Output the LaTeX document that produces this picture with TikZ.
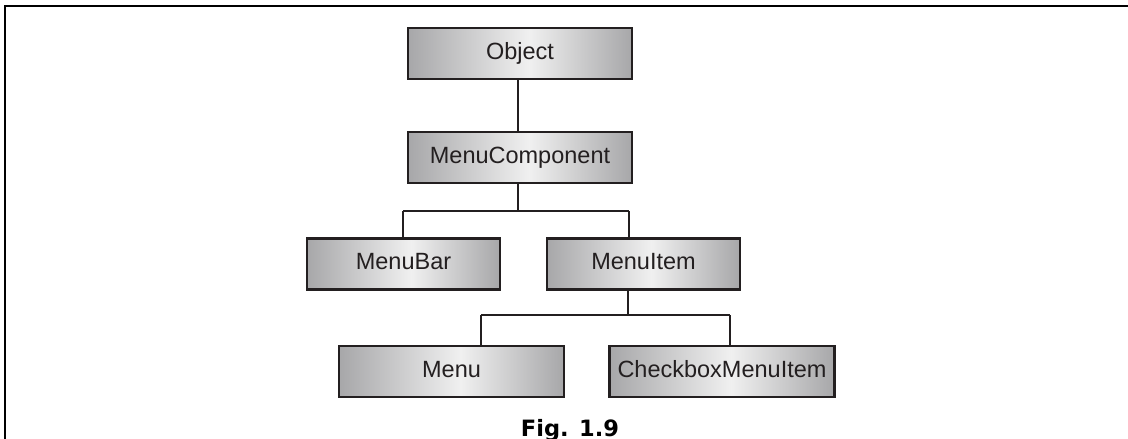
\documentclass[tikz,border=0pt]{standalone}
\usepackage{fontspec}
\setmainfont{Liberation Sans}
\newfontfamily\capfont{DejaVu Sans}
\definecolor{edge}{HTML}{231F20}
\definecolor{boxgray}{HTML}{A7A7A9}
\definecolor{boxlight}{HTML}{F0F0F0}
% left-to-right grey ramp that peaks a little right of centre
\pgfdeclarehorizontalshading{boxshade}{100bp}{%
  color(0bp)=(boxgray); color(25bp)=(boxgray);
  color(52bp)=(boxlight);
  color(75bp)=(boxgray); color(100bp)=(boxgray)}
\tikzset{
  cls/.style={draw=edge, line width=2.2pt, shading=boxshade,
    minimum height=51pt, inner sep=0pt,
    text height=17pt, text depth=5.5pt,
    font=\fontsize{23.5pt}{23.5pt}\selectfont, text=edge},
  wide/.style={cls, minimum width=224pt},
  mid/.style={cls, minimum width=193pt},
  link/.style={draw=edge, line width=2pt},
  frame/.style={draw=black, line width=2.5pt}
}
\begin{document}
\begin{tikzpicture}[x=1pt, y=-1pt]
\useasboundingbox (0,0) rectangle (1128,439);

% outer frame (top and left sides)
\coordinate (fbl) at (5,445);
\coordinate (ftl) at (5,6);
\coordinate (ftr) at (1135,6);
\draw[frame] (fbl) -- (ftl) -- (ftr);

% class boxes
\node[wide] (obj) at (520,53.5)  {Object};
\node[wide] (mc)  at (520,157.5) {MenuComponent};
\node[mid]  (mb)  at (403.5,264) {MenuBar};
\node[mid]  (mi)  at (643.5,264) {MenuItem};
\node[wide, minimum width=225pt] (mn) at (451.5,371.5) {Menu};
\node[wide, minimum width=225pt] (cb) at (722,371.5)   {CheckboxMenuItem};

% junction points of the tree
\coordinate (t0) at (518,0);
\coordinate (j1) at (518,211);
\coordinate (b1l) at (403,211);
\coordinate (b1r) at (629,211);
\coordinate (j2) at (628,315);
\coordinate (b2l) at (481,315);
\coordinate (b2r) at (730,315);

% connectors
\draw[link] (t0 |- obj.south) -- (t0 |- mc.north);
\draw[link] (j1 |- mc.south) -- (j1);
\draw[link] (b1l) -- (b1r);
\draw[link] (b1l) -- (b1l |- mb.north);
\draw[link] (b1r) -- (b1r |- mi.north);
\draw[link] (j2 |- mi.south) -- (j2);
\draw[link] (b2l) -- (b2r);
\draw[link] (b2l) -- (b2l |- mn.north);
\draw[link] (b2r) -- (b2r |- cb.north);

% caption
\node[anchor=base, inner sep=0pt, font=\capfont\bfseries\fontsize{22.5pt}{22.5pt}\selectfont] (cap) at (570,436) {Fig. 1.9};
\end{tikzpicture}
\end{document}
